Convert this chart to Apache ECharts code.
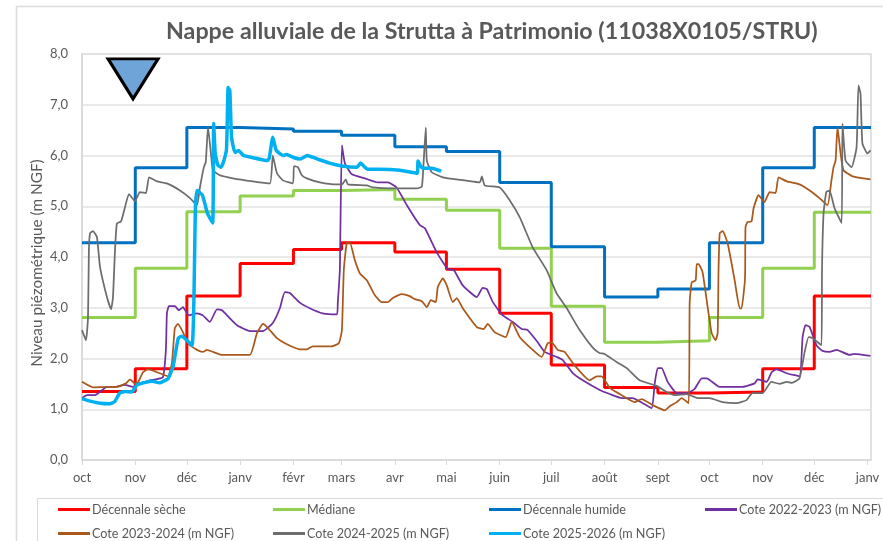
<!DOCTYPE html>
<html>
<head>
<meta charset="utf-8">
<title>Nappe alluviale de la Strutta</title>
<script src="https://cdn.jsdelivr.net/npm/echarts@6/dist/echarts.min.js"></script>
<style>
html, body { margin: 0; padding: 0; background: #fff; }
#main { width: 883px; height: 541px; }
</style>
</head>
<body>
<div id="main"></div>
<script>
// jours depuis le 1er octobre, debut de chaque mois
var monthDays = [0, 31, 61, 92, 123, 151, 182, 212, 243, 273, 304, 335, 365, 396, 426, 457]
var monthLabels = ['oct', 'nov', 'déc', 'janv', 'févr', 'mars', 'avr', 'mai', 'juin', 'juil', 'août', 'sept', 'oct', 'nov', 'déc', 'janv']
var yTicks = [0, 1, 2, 3, 4, 5, 6, 7, 8]

// niveaux mensuels (paliers)
var decennaleSeche = [1.35, 1.80, 3.23, 3.87, 4.15, 4.28, 4.10, 3.76, 2.89, 1.87, 1.43, 1.32, 1.34, 1.80, 3.23, 3.23]
var mediane = [2.81, 3.78, 4.89, 5.20, 5.31, 5.33, 5.14, 4.92, 4.17, 3.03, 2.32, 2.35, 2.81, 3.78, 4.88, 4.88]
var decennaleHumide = [4.28, 5.76, 6.55, 6.52, 6.48, 6.40, 6.17, 6.08, 5.47, 4.20, 3.21, 3.37, 4.28, 5.76, 6.55, 6.55]

// cotes
var days2223 = [0, 2.9, 7.6, 14.5, 19.2, 25, 29.7, 33.7, 39.5, 47, 48.8, 49.4, 50.6, 54, 56.4, 58.7, 62.2, 66.9, 70.3, 74.4, 78.5, 81.4, 90, 97.7, 105.2, 111, 115.1, 118, 120.9, 126.7, 132.5, 140, 148.3, 148.8, 150, 150.3, 151.2, 152.9, 157, 164.5, 172, 177.9, 183, 189, 196.5, 199.4, 206.4, 212.8, 216.3, 221.5, 229.7, 233.1, 235.5, 239, 244.8, 250.6, 255.8, 259.3, 265.1, 269.2, 276.2, 279.7, 285.5, 291.3, 301.2, 307, 314, 320.3, 326.2, 331.4, 333.2, 334.9, 337.2, 340.7, 346, 352.3, 356.4, 360.5, 363.4, 370.9, 378.5, 384.3, 391.3, 393, 398.3, 401.2, 404, 409.9, 417.4, 419.2, 420.9, 423.3, 427.3, 430.8, 434.9, 439, 446.5, 449.4, 458.7]
var vals2223 = [1.22, 1.28, 1.28, 1.44, 1.44, 1.48, 1.44, 1.51, 1.57, 1.63, 2.17, 2.89, 3.03, 3.03, 2.95, 3.01, 2.85, 2.89, 2.85, 2.72, 2.97, 2.95, 2.66, 2.54, 2.54, 2.70, 2.99, 3.31, 3.29, 3.10, 2.99, 2.89, 2.87, 3.09, 3.74, 4.47, 6.20, 5.85, 5.63, 5.55, 5.47, 5.47, 5.37, 5.02, 4.63, 4.57, 4.09, 3.76, 3.74, 3.44, 3.21, 3.39, 3.37, 3.11, 2.85, 2.72, 2.58, 2.56, 2.32, 2.13, 2.03, 1.97, 1.71, 1.57, 1.38, 1.30, 1.22, 1.22, 1.12, 1.02, 1.51, 1.81, 1.81, 1.54, 1.32, 1.32, 1.40, 1.61, 1.61, 1.44, 1.44, 1.44, 1.51, 1.59, 1.54, 1.73, 1.79, 1.71, 1.65, 2.42, 2.66, 2.62, 2.26, 2.15, 2.13, 2.17, 2.07, 2.09, 2.05]

var days2324 = [0, 6.4, 14.5, 20.3, 25.6, 27.9, 30.8, 32.6, 35.5, 38.4, 43.6, 50, 52.3, 54, 55.8, 58.7, 61.6, 66.9, 70.3, 72.7, 76.2, 81.4, 87.8, 97.7, 101.8, 105.3, 108.2, 113.4, 119.2, 126.7, 130.8, 134.3, 145.3, 149.4, 151.2, 152.3, 154, 155.8, 158.7, 161.6, 165.7, 170.3, 174.4, 177.9, 180.8, 186, 190.7, 193.6, 197.7, 200.6, 202.9, 205.8, 207, 209.9, 212.2, 215.7, 218, 221.5, 229.7, 233.7, 236, 240, 246.5, 250, 254.7, 262.2, 267.4, 270.9, 273.3, 276.7, 280.8, 285.5, 295.3, 299.4, 302.3, 307, 312.8, 321.5, 325.6, 332, 339, 341.9, 346, 348.8, 352.9, 353.5, 354.7, 357, 357.6, 358.7, 361, 363.4, 366.3, 368.6, 369.8, 370.3, 371, 372.7, 375.6, 379.7, 382.6, 383.7, 385.5, 385.8, 386, 387.2, 389.5, 390.7, 393.6, 397, 400, 403.5, 405.2, 410, 417.4, 423.3, 429, 433.7, 436, 437.2, 438.4, 439.5, 441.3, 443, 448.3, 458.7]
var vals2324 = [1.54, 1.43, 1.44, 1.44, 1.51, 1.59, 1.51, 1.53, 1.73, 1.79, 1.73, 1.65, 1.91, 2.60, 2.68, 2.52, 2.30, 2.17, 2.13, 2.17, 2.13, 2.07, 2.07, 2.07, 2.50, 2.68, 2.60, 2.40, 2.28, 2.18, 2.18, 2.24, 2.24, 2.30, 2.56, 3.74, 4.27, 4.29, 3.94, 3.68, 3.54, 3.25, 3.11, 3.11, 3.19, 3.27, 3.23, 3.17, 3.13, 3.01, 3.15, 3.11, 3.41, 3.58, 3.44, 3.11, 3.19, 2.99, 2.62, 2.58, 2.68, 2.52, 2.42, 2.72, 2.42, 2.17, 2.03, 2.30, 2.32, 2.17, 2.13, 1.91, 1.57, 1.65, 1.65, 1.42, 1.30, 1.14, 1.20, 1.08, 0.98, 1.06, 1.14, 1.22, 1.12, 3.09, 3.50, 3.54, 3.86, 3.86, 3.70, 3.15, 2.50, 2.36, 2.50, 3.74, 4.47, 4.51, 4.27, 3.54, 2.99, 2.99, 3.48, 3.74, 4.59, 4.69, 4.70, 4.96, 5.22, 5.08, 5.28, 5.26, 5.57, 5.49, 5.43, 5.31, 5.16, 5.02, 5.51, 5.77, 5.90, 6.56, 6.04, 5.71, 5.59, 5.53]

var days2425 = [0, 2.3, 3.5, 4, 4.7, 6.4, 8.7, 10.5, 14.5, 16.9, 18, 19.2, 20.3, 22.7, 25, 27.3, 30.8, 33.7, 37.2, 39, 43.6, 49.4, 57, 62.8, 66.9, 68.6, 70.9, 72, 73.3, 75, 76.2, 80.2, 87.8, 99.4, 109.3, 111, 113.4, 116.9, 122.7, 123.3, 125.6, 127.9, 130.8, 138.4, 148.3, 151.2, 153.5, 154.7, 165.7, 169.2, 180.8, 194.8, 197.7, 198.8, 200, 200.6, 203.5, 209.9, 218, 231.4, 232.6, 234.3, 243, 248.8, 254.7, 262.2, 270.3, 276, 282, 289.5, 297, 301, 304, 311, 316.9, 324.4, 334.3, 340, 344.8, 351.7, 358, 365, 372.7, 380.8, 386.6, 390, 396, 401, 405.8, 410, 413, 417.4, 420.3, 422.7, 425, 430.2, 430.5, 431.4, 433, 434.9, 437.8, 441.9, 442.4, 444.2, 447.7, 450.6, 451.7, 452.9, 454, 457, 458.7]
var vals2425 = [2.56, 2.36, 2.81, 4.13, 4.47, 4.51, 4.39, 3.80, 3.21, 2.97, 3.20, 4.13, 4.66, 4.70, 4.98, 5.24, 5.10, 5.28, 5.26, 5.57, 5.49, 5.45, 5.31, 5.16, 5.02, 5.37, 5.77, 5.87, 6.56, 6.04, 5.71, 5.61, 5.55, 5.49, 5.45, 6.00, 5.65, 5.51, 5.45, 5.79, 5.77, 5.61, 5.55, 5.47, 5.43, 5.43, 5.53, 5.43, 5.41, 5.37, 5.35, 5.35, 5.39, 5.90, 6.55, 5.90, 5.67, 5.57, 5.53, 5.47, 5.59, 5.41, 5.37, 5.12, 4.78, 4.19, 3.74, 3.29, 2.99, 2.56, 2.22, 2.11, 2.09, 1.93, 1.81, 1.57, 1.46, 1.34, 1.28, 1.30, 1.22, 1.22, 1.14, 1.12, 1.18, 1.32, 1.32, 1.54, 1.50, 1.54, 1.52, 1.61, 2.11, 2.42, 2.40, 2.26, 3.74, 4.86, 5.28, 5.31, 4.96, 4.67, 6.63, 5.90, 5.77, 6.16, 7.38, 7.22, 6.24, 6.04, 6.10]

var days2526 = [0, 4.7, 10.5, 16.3, 19, 22, 25, 29, 32, 37, 41, 45, 50, 52, 53, 56, 58, 64, 66, 67, 70, 73, 76, 76.6, 77.5, 79, 81, 84, 85, 86, 87, 89, 91, 94, 99, 108, 109, 111, 113, 117, 119, 123, 127, 131, 137, 144, 152, 160, 162, 166, 173, 185, 195, 195.5, 198, 203.5, 209]
var vals2526 = [1.21, 1.16, 1.12, 1.11, 1.15, 1.32, 1.35, 1.34, 1.48, 1.53, 1.55, 1.52, 1.60, 1.75, 1.84, 2.40, 2.44, 2.26, 4.99, 5.31, 5.22, 4.86, 4.67, 6.63, 6.04, 5.81, 5.77, 6.10, 7.34, 7.28, 6.36, 6.06, 6.10, 6.00, 5.96, 5.90, 5.96, 6.36, 6.10, 6.00, 6.02, 5.96, 5.93, 6.00, 5.93, 5.85, 5.79, 5.77, 5.85, 5.73, 5.73, 5.71, 5.65, 5.89, 5.75, 5.75, 5.69]

// triangle de tendance en haut a gauche
var trendMarker = [[29.7, 7.51]]

var textColor = '#595959'
var frameColor = '#dcdcdc'
var fontFamily = 'Lato, "Open Sans", sans-serif'

function zip(xs, ys) {
  return xs.map(function (x, i) { return [x, ys[i]] })
}

function stepLine(name, values, color) {
  return {
    name: name,
    type: 'line',
    step: 'end',
    showSymbol: false,
    data: zip(monthDays.slice(0, 15).concat([459]), values),
    lineStyle: { color: color, width: 3 },
    itemStyle: { color: color }
  }
}

function coteLine(name, days, values, color, width) {
  return {
    name: name,
    type: 'line',
    smooth: 0.15,
    showSymbol: false,
    data: zip(days, values),
    lineStyle: { color: color, width: width },
    itemStyle: { color: color }
  }
}

function legendColumn(left, names) {
  return {
    orient: 'vertical',
    left: left,
    top: 503,
    itemWidth: 32,
    itemHeight: 3,
    itemGap: 11,
    padding: 0,
    icon: 'rect',
    data: names,
    textStyle: { color: textColor, fontFamily: fontFamily, fontSize: 12.6, padding: [0, 0, 0, -3] }
  }
}

var myChart = echarts.init(document.getElementById('main'))

myChart.setOption({
  animation: false,
  title: {
    text: 'Nappe alluviale de la Strutta à Patrimonio (11038X0105/STRU)',
    left: 166,
    top: 20,
    padding: 0,
    textStyle: { color: textColor, fontFamily: fontFamily, fontSize: 23.25, fontWeight: 'bold' }
  },
  grid: { show: true, left: 82, top: 54, width: 789, height: 406, borderColor: '#d9d9d9', borderWidth: 1.5 },
  graphic: [
    { type: 'line', silent: true, shape: { x1: 16.5, y1: 6, x2: 16.5, y2: 541 },
      style: { stroke: frameColor, lineWidth: 1.5 } },
    { type: 'line', silent: true, shape: { x1: 16, y1: 6.5, x2: 883, y2: 6.5 },
      style: { stroke: frameColor, lineWidth: 1.5 } },
    { type: 'rect', silent: true, shape: { x: 37.5, y: 498.5, width: 860, height: 60 },
      style: { fill: '#fff', stroke: '#d9d9d9', lineWidth: 1 } }
  ],
  legend: [
    legendColumn(58, ['Décennale sèche', 'Cote 2023-2024 (m NGF)']),
    legendColumn(273, ['Médiane', 'Cote 2024-2025 (m NGF)']),
    legendColumn(489, ['Décennale humide', 'Cote 2025-2026 (m NGF)']),
    legendColumn(705, ['Cote 2022-2023 (m NGF)'])
  ],
  xAxis: {
    type: 'value',
    min: 0,
    max: 459,
    splitLine: { show: false },
    axisLine: { onZero: false, lineStyle: { color: '#d9d9d9', width: 1.5 } },
    axisTick: { show: true, customValues: monthDays, length: 5, lineStyle: { color: '#d9d9d9' } },
    axisLabel: {
      customValues: monthDays,
      color: textColor,
      fontFamily: fontFamily,
      fontSize: 13,
      margin: 11,
      formatter: function (value) {
        return monthLabels[monthDays.indexOf(value)]
      }
    }
  },
  yAxis: {
    type: 'value',
    min: 0,
    max: 8,
    interval: 1,
    name: 'Niveau piézométrique (m NGF)',
    nameLocation: 'middle',
    nameGap: 37,
    nameMoveOverlap: false,
    nameTextStyle: { color: textColor, fontFamily: fontFamily, fontSize: 15.3, padding: [0, 12, 0, 0] },
    axisLine: { show: true, lineStyle: { color: '#d9d9d9', width: 1.5 } },
    axisTick: { show: false },
    splitLine: { show: true, lineStyle: { color: '#e3e3e3', width: 1.5 } },
    axisLabel: {
      color: textColor,
      fontFamily: fontFamily,
      fontSize: 13,
      margin: 14,
      formatter: function (value) {
        return yTicks.indexOf(value) >= 0 ? value.toFixed(1).replace('.', ',') : ''
      }
    }
  },
  series: [
    stepLine('Décennale sèche', decennaleSeche, '#ff0000'),
    stepLine('Médiane', mediane, '#92d050'),
    stepLine('Décennale humide', decennaleHumide, '#0070c0'),
    coteLine('Cote 2022-2023 (m NGF)', days2223, vals2223, '#7030a0', 1.75),
    coteLine('Cote 2023-2024 (m NGF)', days2324, vals2324, '#a9591c', 1.75),
    coteLine('Cote 2024-2025 (m NGF)', days2425, vals2425, '#6d6d6d', 1.75),
    coteLine('Cote 2025-2026 (m NGF)', days2526, vals2526, '#00b0f0', 3.5),
    {
      name: 'tendance',
      type: 'scatter',
      symbol: 'triangle',
      symbolSize: [50, 40],
      symbolRotate: 180,
      data: trendMarker,
      itemStyle: { color: '#6fa4d8', borderColor: '#000', borderWidth: 3, borderJoin: 'miter', opacity: 1 },
      silent: true
    }
  ]
})
</script>
</body>
</html>
